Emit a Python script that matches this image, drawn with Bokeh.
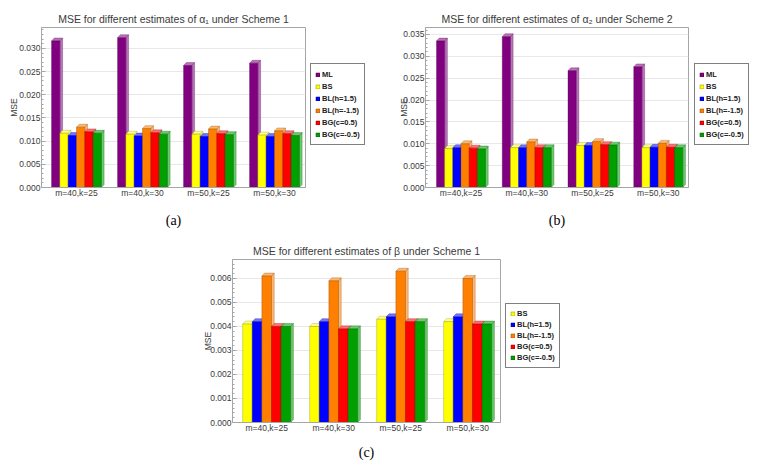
from bokeh.plotting import figure
from bokeh.models import (Range1d, FixedTicker, NumeralTickFormatter, Legend, LegendItem,
                          Spacer, LinearAxis)
from bokeh.layouts import column, row
from bokeh.embed import file_html
from bokeh.resources import INLINE

categories = ["m=40,k=25", "m=40,k=30", "m=50,k=25", "m=50,k=30"]
estimators6 = ["ML", "BS", "BL(h=1.5)", "BL(h=-1.5)", "BG(c=0.5)", "BG(c=-0.5)"]
estimators5 = ["BS", "BL(h=1.5)", "BL(h=-1.5)", "BG(c=0.5)", "BG(c=-0.5)"]

# Panel (a): alpha1, Scheme 1
a_ML = [0.0316, 0.0323, 0.0263, 0.0268]
a_BS = [0.0117, 0.0115, 0.0115, 0.0113]
a_BLp = [0.0112, 0.0111, 0.0110, 0.0110]
a_BLm = [0.0130, 0.0127, 0.0126, 0.0122]
a_BGp = [0.0120, 0.0118, 0.0116, 0.0116]
a_BGm = [0.0117, 0.0115, 0.0114, 0.0112]

# Panel (b): alpha2, Scheme 2
b_ML = [0.0335, 0.0345, 0.0267, 0.0276]
b_BS = [0.0089, 0.0091, 0.0096, 0.0091]
b_BLp = [0.0091, 0.0091, 0.0096, 0.0092]
b_BLm = [0.0100, 0.0104, 0.0105, 0.0101]
b_BGp = [0.0090, 0.0091, 0.0098, 0.0092]
b_BGm = [0.0088, 0.0091, 0.0097, 0.0091]

# Panel (c): beta, Scheme 1
c_BS = [0.0041, 0.0040, 0.0043, 0.0042]
c_BLp = [0.0042, 0.0042, 0.0044, 0.0044]
c_BLm = [0.0061, 0.0059, 0.0063, 0.0060]
c_BGp = [0.0040, 0.0039, 0.0042, 0.0041]
c_BGm = [0.0040, 0.0039, 0.0042, 0.0041]

front6 = ["#800080", "#ffff00", "#0000ff", "#ff8000", "#ff0000", "#00a000"]
light6 = ["#b872b8", "#ffff8c", "#7373ff", "#ffb670", "#ff7070", "#6acb6a"]
edge6 = ["#4d004d", "#8a8a00", "#00008a", "#8a4500", "#8a0000", "#005000"]

FONT = "Liberation Sans"
TXT = "#3a3a3a"
FRAME = "#a6a6a6"
CENTERS = [1, 2, 3, 4]


def make_panel(title, names, values, fronts, lights, edges, y_end, y_max_tick, y_step,
               x_center, group_w, label, width, height, left, top, bottom,
               ylab_standoff, xlab_standoff, title_standoff):
    p = figure(width=width, height=height, min_border_left=left, min_border_right=1,
               min_border_top=top, min_border_bottom=bottom,
               x_range=Range1d(1 - x_center, 5 - x_center), y_range=Range1d(0, y_end),
               output_backend="svg", toolbar_location=None)
    p.background_fill_color = "white"
    p.border_fill_color = "white"
    p.outline_line_color = FRAME
    p.outline_line_width = 1

    n_major = int(round(y_max_tick / y_step))
    majors = [round(k * y_step, 6) for k in range(n_major + 1)]
    minors = [round(k * y_step / 5, 7) for k in range(int(round(y_end / (y_step / 5))) + 1)]
    yt = FixedTicker(ticks=majors, minor_ticks=minors)
    ya = p.left[0]
    ya.ticker = yt
    ya.formatter = NumeralTickFormatter(format="0.000")
    ya.major_label_text_font = FONT
    ya.major_label_text_font_size = "8.5px"
    ya.major_label_text_color = TXT
    ya.major_tick_in = 4
    ya.major_tick_out = 0
    ya.minor_tick_in = 2
    ya.minor_tick_out = 0
    ya.major_tick_line_color = FRAME
    ya.minor_tick_line_color = FRAME
    ya.axis_line_color = FRAME
    ya.major_label_standoff = 1
    ya.axis_label = "MSE"
    ya.axis_label_text_font = FONT
    ya.axis_label_text_font_size = "8.5px"
    ya.axis_label_text_font_style = "normal"
    ya.axis_label_text_color = TXT
    ya.axis_label_standoff = ylab_standoff

    xa = p.below[0]
    xa.ticker = FixedTicker(ticks=CENTERS)
    xa.major_label_overrides = {c: lab for c, lab in zip(CENTERS, categories)}
    xa.major_label_text_font = FONT
    xa.major_label_text_font_size = "8.5px"
    xa.major_label_text_color = TXT
    xa.major_tick_line_color = None
    xa.minor_tick_line_color = None
    xa.major_tick_out = 0
    xa.major_tick_in = 0
    xa.axis_line_color = FRAME
    xa.major_label_standoff = 0
    xa.axis_label = label
    xa.axis_label_text_font = "Liberation Serif"
    xa.axis_label_text_font_size = "14px"
    xa.axis_label_text_font_style = "normal"
    xa.axis_label_text_color = "black"
    xa.axis_label_standoff = xlab_standoff

    p.xgrid.grid_line_color = None
    p.ygrid.ticker = yt
    p.ygrid.grid_line_color = "#e8e8e8"
    p.ygrid.grid_line_width = 1

    n = len(names)
    bw = group_w / n
    dx = 0.041
    dy = 0.0185 * y_end
    for j, (name, vals) in enumerate(zip(names, values)):
        xl = [c - group_w / 2 + j * bw for c in CENTERS]
        xr = [x + bw for x in xl]
        side_xs = [[r, r + dx, r + dx, r] for r in xr]
        side_ys = [[0, dy, v + dy, v] for v in vals]
        top_xs = [[l, l + dx, r + dx, r] for l, r in zip(xl, xr)]
        top_ys = [[v, v + dy, v + dy, v] for v in vals]
        p.patches(side_xs, side_ys, fill_color=lights[j], line_color=edges[j],
                  line_width=0.5, line_alpha=0.6)
        p.patches(top_xs, top_ys, fill_color=lights[j], line_color=edges[j],
                  line_width=0.5, line_alpha=0.6)
        p.vbar(x=[(l + r) / 2 for l, r in zip(xl, xr)], top=vals, bottom=0, width=bw,
               fill_color=fronts[j], line_color=edges[j], line_width=0.5, line_alpha=0.7)

    top_axis = LinearAxis(ticker=FixedTicker(ticks=[]), axis_label=title)
    top_axis.axis_line_color = None
    top_axis.major_tick_line_color = None
    top_axis.minor_tick_line_color = None
    top_axis.major_label_text_font_size = "1px"
    top_axis.axis_label_text_font = FONT
    top_axis.axis_label_text_font_size = "10.5px"
    top_axis.axis_label_text_font_style = "normal"
    top_axis.axis_label_text_color = TXT
    top_axis.axis_label_standoff = title_standoff
    p.add_layout(top_axis, "above")
    return p


def make_legend(names, values, fronts, edges, width, height, loc, label_h):
    q = figure(width=width, height=height, x_range=Range1d(0, 1), y_range=Range1d(0, 1),
               x_axis_type=None, y_axis_type=None, min_border=0,
               output_backend="svg", toolbar_location=None)
    q.outline_line_color = None
    q.background_fill_color = "white"
    q.border_fill_color = "white"
    q.xgrid.grid_line_color = None
    q.ygrid.grid_line_color = None
    items = []
    for j, (name, vals) in enumerate(zip(names, values)):
        rr = q.vbar(x=CENTERS, top=vals, width=0.1, fill_color=fronts[j],
                    line_color=edges[j], line_width=0.5, visible=False)
        items.append(LegendItem(label=name, renderers=[rr]))
    leg = Legend(items=items, location=loc)
    leg.margin = 0
    leg.padding = 4
    leg.spacing = 0
    leg.label_height = label_h
    leg.glyph_width = 5
    leg.glyph_height = 5
    leg.label_standoff = 2
    leg.label_text_font = FONT
    leg.label_text_font_size = "7.5px"
    leg.label_text_font_style = "bold"
    leg.label_text_color = "#222222"
    leg.inactive_fill_alpha = 0.0
    leg.border_line_color = "black"
    leg.border_line_width = 1.5
    leg.background_fill_color = "white"
    leg.background_fill_alpha = 1.0
    q.add_layout(leg)
    return q


a_vals = [a_ML, a_BS, a_BLp, a_BLm, a_BGp, a_BGm]
b_vals = [b_ML, b_BS, b_BLp, b_BLm, b_BGp, b_BGm]
c_vals = [c_BS, c_BLp, c_BLm, c_BGp, c_BGm]

pa = make_panel("MSE for different estimates of \u03b1\u2081 under Scheme 1", estimators6,
                a_vals, front6, light6, edge6,
                0.0345, 0.030, 0.005, 0.53, 0.755, "(a)",
                306, 222, 41, 19, 41, -3, 12, 3)
la = make_legend(estimators6, a_vals, front6, edge6, 69, 222, (4, 42), 12)
pb = make_panel("MSE for different estimates of \u03b1\u2082 under Scheme 2", estimators6,
                b_vals, front6, light6, edge6,
                0.0366, 0.035, 0.005, 0.54, 0.745, "(b)",
                314, 222, 50, 19, 41, -9, 12, 3)
lb = make_legend(estimators6, b_vals, front6, edge6, 61, 222, (5, 42), 12)
pc = make_panel("MSE for different estimates of \u03b2 under Scheme 1", estimators5,
                c_vals, front6[1:], light6[1:], edge6[1:],
                0.00679, 0.006, 0.001, 0.51, 0.716, "(c)",
                319, 232, 50, 29, 37, -6, 9, 3)
lc = make_legend(estimators5, c_vals, front6[1:], edge6[1:], 62, 232, (4, 54), 11)

layout = column(Spacer(width=10, height=8),
                row(pa, la, pb, lb),
                row(Spacer(width=182, height=10), pc, lc))

open("out.html", "w").write(file_html(layout, INLINE))
